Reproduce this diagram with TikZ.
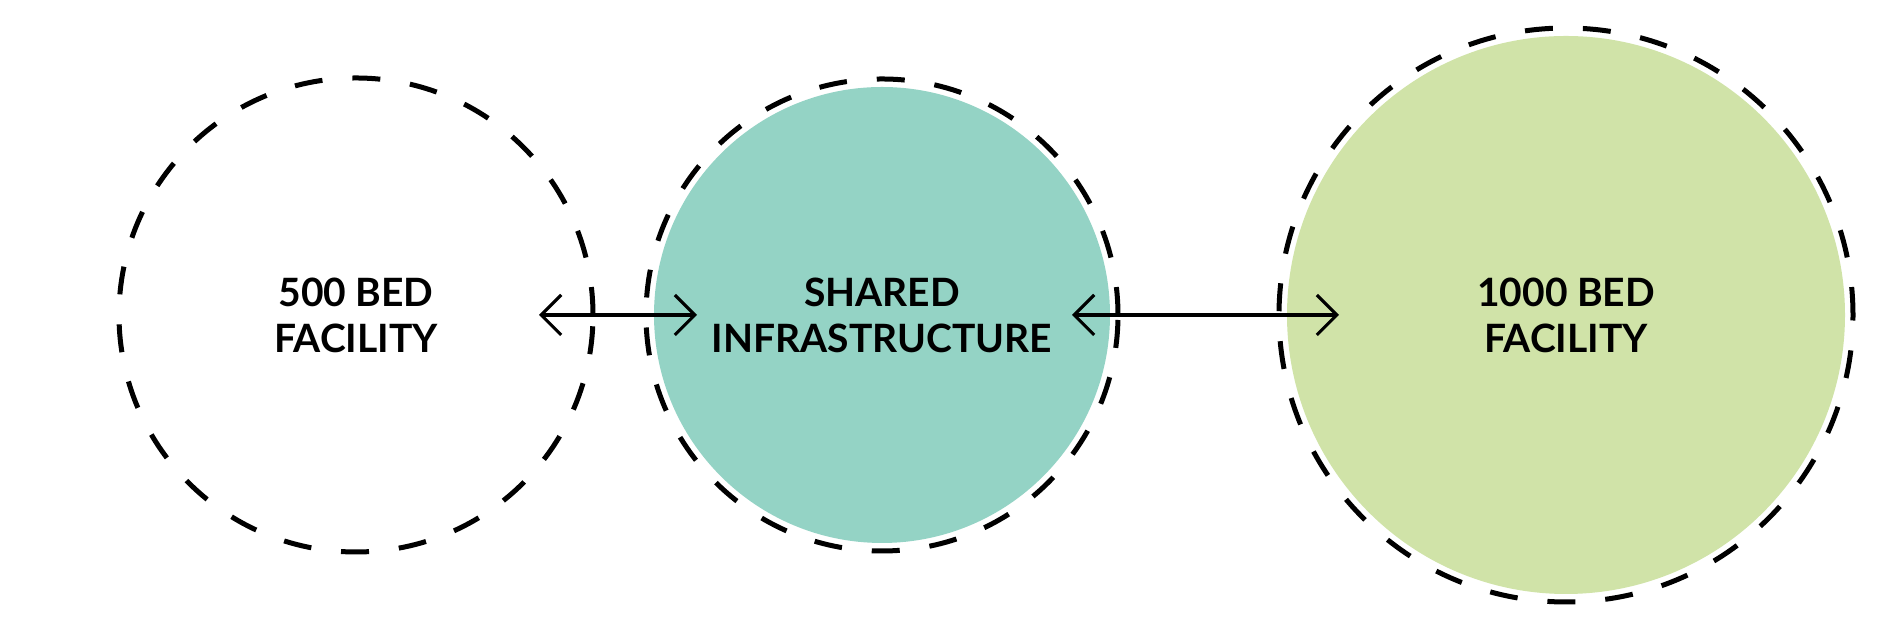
\documentclass[tikz,border=0pt]{standalone}
\usepackage{fontspec}
\setmainfont{Lato}
\usetikzlibrary{positioning, arrows.meta}

\definecolor{infrafill}{HTML}{94D3C5}
\definecolor{bigfill}{HTML}{D0E3A8}

\begin{document}
\begin{tikzpicture}[
    font=\fontsize{11.1pt}{13.1pt}\selectfont\bfseries,
    site/.style={circle, inner sep=0pt, outer sep=0pt, align=center},
    ring/.style={line width=0.05cm, dash pattern=on 0.28cm off 0.30cm},
    ar/.style={{Straight Barb[length=2mm, width=4mm]}-{Straight Barb[length=2mm, width=4mm]},
               line width=0.9pt},
  ]
  \useasboundingbox (0,0) rectangle (18.87,6.30);

  \node[site, minimum size=4.74cm, draw, ring] (small) at (3.56,3.15) {500 BED\\FACILITY};
  \node[site, minimum size=4.56cm, fill=infrafill] (shared) at (8.82,3.15) {SHARED\\INFRASTRUCTURE};
  \node[site, minimum size=5.58cm, fill=bigfill] (large) at (15.66,3.15) {1000 BED\\FACILITY};

  % dashed outlines round the filled ones
  \draw[ring] (shared.center) circle[radius=2.36cm];
  \draw[ring] (large.center) circle[radius=2.87cm];

  \draw[ar, shorten <=-5.4mm, shorten >=-4.3mm] (small.east) -- (shared.west);
  \draw[ar, shorten <=-3.8mm, shorten >=-5.2mm] (shared.east) -- (large.west);
\end{tikzpicture}
\end{document}
